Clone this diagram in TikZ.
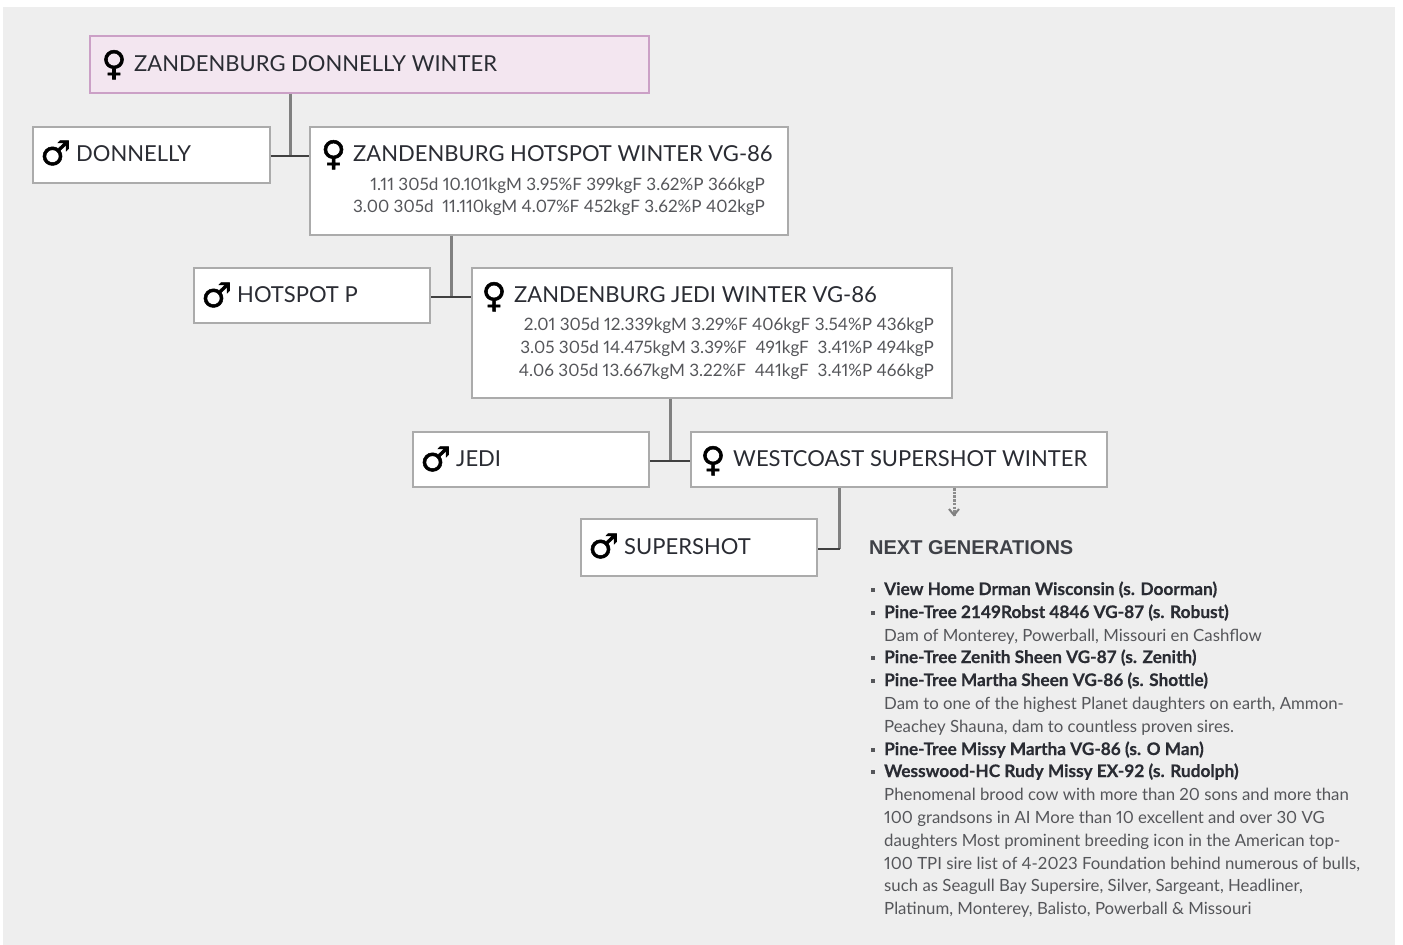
\documentclass[tikz,border=0pt]{standalone}
\usepackage{fontspec}
\setmainfont[Numbers=Proportional]{Lato}
\newfontfamily\symb[FakeBold=1.5]{DejaVu Sans}
\newfontfamily\headf{Liberation Sans}
\newfontfamily\blk[BoldFeatures={FakeBold=0.5}]{Lato}
\definecolor{bgc}{HTML}{EEEEEE}
\definecolor{bord}{HTML}{ABABAB}
\definecolor{ink}{HTML}{2A2C33}
\definecolor{bodyc}{HTML}{55565A}
\definecolor{pinkb}{HTML}{CBA0C6}
\definecolor{pinkf}{HTML}{F3E6F0}
\tikzset{
  x=1pt,y=-1pt,
  box/.style={draw=bord,line width=2pt,fill=white,inner sep=0pt,anchor=north west},
  rootbox/.style={box,draw=pinkb,fill=pinkf},
  nametxt/.style={anchor=base west,inner sep=0pt,text=ink,font=\fontsize{22}{24}\selectfont},
  symtxt/.style={anchor=base,inner sep=0pt,text=black,font=\symb\fontsize{34}{36}\selectfont},
  stattxt/.style={anchor=base east,inner sep=0pt,text=bodyc,font=\fontsize{17.1}{18}\selectfont},
  headtxt/.style={anchor=base west,inner sep=0pt,text=ink!90!white,font=\headf\bfseries\fontsize{20}{22}\selectfont},
  boldl/.style={anchor=base west,inner sep=0pt,text=ink,font=\blk\bfseries\fontsize{17.25}{18}\selectfont},
  bodyl/.style={anchor=base west,inner sep=0pt,text=bodyc,font=\fontsize{16.8}{18}\selectfont},
  bul/.style={fill=bodyc,inner sep=0pt,minimum width=3.5pt,minimum height=4pt,anchor=center},
  stemline/.style={draw=black!50,line width=3pt},
  tieline/.style={draw=black!75,line width=2pt},
  nextg/.style={draw=black!45,line width=3pt,dash pattern=on 2.5pt off 1.2pt},
  tipline/.style={draw=black!50,line width=2pt},
}
\begin{document}
\begin{tikzpicture}
\useasboundingbox (0,0) rectangle (1403,945);
\fill[bgc] (3,7) rectangle (1395,945);

% boxes
\node[rootbox,minimum width=558.5pt,minimum height=56.5pt] (root) at (89,35) {};
\node[box,minimum width=236.7pt,minimum height=55.5pt] (donnelly) at (32,126) {};
\node[box,minimum width=477.7pt,minimum height=107.5pt] (hotspotw) at (309,126) {};
\node[box,minimum width=236.7pt,minimum height=55.5pt] (hotspot) at (192.5,266.5) {};
\node[box,minimum width=480.7pt,minimum height=130.5pt] (jediw) at (470.5,266.5) {};
\node[box,minimum width=236.7pt,minimum height=55.5pt] (jedi) at (411.5,430.5) {};
\node[box,minimum width=416.7pt,minimum height=55.5pt] (superw) at (689.5,430.5) {};
\node[box,minimum width=236.7pt,minimum height=56.5pt] (super) at (579.5,518) {};

% connectors
\coordinate (j1) at (290.5,156);
\coordinate (j2) at (451.5,297);
\coordinate (j3) at (670.5,461);
\coordinate (j4) at (839.5,548.5);
\coordinate (nx1) at (954,488);
\coordinate (nx2) at (954,516);
\draw[stemline] (root.south -| j1) -- (j1);
\draw[tieline] (donnelly.east |- j1) -- (hotspotw.west |- j1);
\draw[stemline] (hotspotw.south -| j2) -- (j2);
\draw[tieline] (hotspot.east |- j2) -- (jediw.west |- j2);
\draw[stemline] (jediw.south -| j3) -- (j3);
\draw[tieline] (jedi.east |- j3) -- (superw.west |- j3);
\draw[stemline] (superw.south -| j4) -- (j4);
\draw[tieline] (super.east |- j4) -- (j4);
\draw[nextg] (nx1) -- (nx2);
\draw[tipline] (949,509) -- (954,515) -- (959,509);

% symbols
\node[symtxt] (s1) at (114,75) {♀};
\node[symtxt] (s2) at (55.5,165) {♂};
\node[symtxt] (s3) at (333.5,165) {♀};
\node[symtxt] (s4) at (216.5,307) {♂};
\node[symtxt] (s5) at (494,307) {♀};
\node[symtxt] (s6) at (435.5,471) {♂};
\node[symtxt] (s7) at (713,471) {♀};
\node[symtxt] (s8) at (603.5,558) {♂};

% names
\node[nametxt] (t1) at (134,71) {ZANDENBURG DONNELLY WINTER};
\node[nametxt] (t2) at (76,161) {DONNELLY};
\node[nametxt] (t3) at (353,161) {ZANDENBURG HOTSPOT WINTER VG-86};
\node[nametxt] (t4) at (237,302) {HOTSPOT P};
\node[nametxt] (t5) at (514,302) {ZANDENBURG JEDI WINTER VG-86};
\node[nametxt] (t6) at (456,466) {JEDI};
\node[nametxt] (t7) at (733,466) {WESTCOAST SUPERSHOT WINTER};
\node[nametxt] (t8) at (624,554) {SUPERSHOT};

% stats
\node[stattxt] (h1) at (765,190) {1.11 305d 10.101kgM 3.95\%F 399kgF 3.62\%P 366kgP};
\node[stattxt] (h2) at (765,212) {3.00 305d \ 11.110kgM 4.07\%F 452kgF 3.62\%P 402kgP};
\node[stattxt] (j1t) at (934,330) {2.01 305d 12.339kgM 3.29\%F 406kgF 3.54\%P 436kgP};
\node[stattxt] (j2t) at (934,353) {3.05 305d 14.475kgM 3.39\%F \ 491kgF \ 3.41\%P 494kgP};
\node[stattxt] (j3t) at (934,376) {4.06 305d 13.667kgM 3.22\%F \ 441kgF \ 3.41\%P 466kgP};

% next generations
\node[headtxt] (ng) at (869,554) {NEXT GENERATIONS};
\foreach \n/\y in {a/590,b/613,c/658,d/681,e/750,f/772}
  \node[bul] (b\n) at (873,\y) {};
\node[boldl] (l1) at (884,595) {View Home Drman Wisconsin (s. Doorman)};
\node[boldl] (l2) at (884,618) {Pine-Tree 2149Robst 4846 VG-87 (s. Robust)};
\node[bodyl] (l3) at (884,641) {Dam of Monterey, Powerball, Missouri en Cashflow};
\node[boldl] (l4) at (884,663) {Pine-Tree Zenith Sheen VG-87 (s. Zenith)};
\node[boldl] (l5) at (884,686) {Pine-Tree Martha Sheen VG-86 (s. Shottle)};
\node[bodyl] (l6) at (884,709) {Dam to one of the highest Planet daughters on earth, Ammon-};
\node[bodyl] (l7) at (884,732) {Peachey Shauna, dam to countless proven sires.};
\node[boldl] (l8) at (884,755) {Pine-Tree Missy Martha VG-86 (s. O Man)};
\node[boldl] (l9) at (884,777) {Wesswood-HC Rudy Missy EX-92 (s. Rudolph)};
\node[bodyl] (l10) at (884,800) {Phenomenal brood cow with more than 20 sons and more than};
\node[bodyl] (l11) at (884,823) {100 grandsons in AI More than 10 excellent and over 30 VG};
\node[bodyl] (l12) at (884,846) {daughters Most prominent breeding icon in the American top-};
\node[bodyl] (l13) at (884,869) {100 TPI sire list of 4-2023 Foundation behind numerous of bulls,};
\node[bodyl] (l14) at (884,891) {such as Seagull Bay Supersire, Silver, Sargeant, Headliner,};
\node[bodyl] (l15) at (884,914) {Platinum, Monterey, Balisto, Powerball \& Missouri};
\end{tikzpicture}
\end{document}
